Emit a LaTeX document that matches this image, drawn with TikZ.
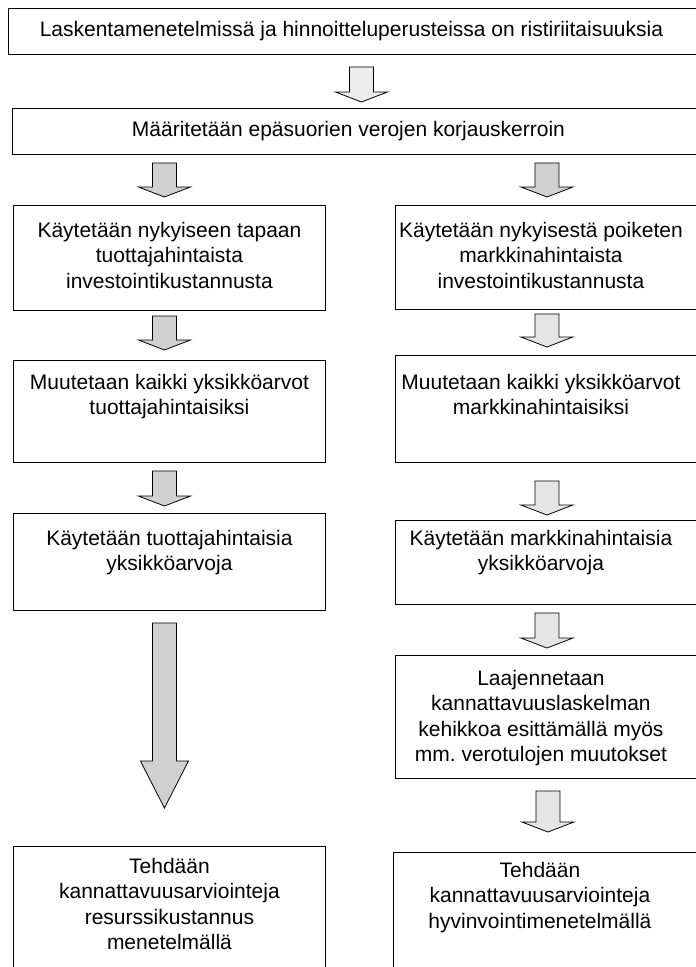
\documentclass[tikz,border=0pt]{standalone}
\usepackage{fontspec}
\setmainfont{Liberation Sans}
\usetikzlibrary{calc}
\usetikzlibrary{positioning}

\tikzset{
    box/.style={draw, line width=0.9pt, inner sep=0pt, minimum width=312pt, anchor=north west},
    txt/.style={inner sep=0pt, align=center, font=\fontsize{21}{25.5}\selectfont},
    barr/.style n args={3}{draw, line width=0.8pt, fill=#1,
        to path={let \p1=(\tikztostart), \p2=(\tikztotarget) in
            (\x2-12pt,\y1) -- (\x2+12pt,\y1) -- (\x2+12pt,\y2+#2) -- (\x2+#3,\y2+#2)
            -- (\x2,\y2) -- (\x2-#3,\y2+#2) -- (\x2-12pt,\y2+#2) -- cycle}},
}

\begin{document}
\begin{tikzpicture}[x=1pt, y=-1pt]
    \useasboundingbox (0,0) rectangle (696,967);
    \clip (0,0) rectangle (696,967);
    % boxes
    \node[box, minimum width=706pt, minimum height=46pt] (lask) at (8,8) {};
    \node[box, minimum width=698pt, minimum height=46pt] (maar) at (12,108) {};
    \node[box, minimum height=105pt] (tuotInv) at (13,205) {};
    \node[box, minimum height=102pt] (tuotMuu) at (13,360) {};
    \node[box, minimum height=97pt] (tuotYks) at (13,513) {};
    \node[box, minimum height=140pt] (resMen) at (13,846) {};
    \node[box, minimum width=305pt, minimum height=104pt] (markInv) at (395,205) {};
    \node[box, minimum width=305pt, minimum height=107pt] (markMuu) at (395,355) {};
    \node[box, minimum width=305pt, minimum height=84pt] (markYks) at (395,520) {};
    \node[box, minimum width=305pt, minimum height=123pt] (laaj) at (395,655) {};
    \node[box, minimum width=307pt, minimum height=130pt] (hyvMen) at (393,852) {};
    % texts
    \node[txt] (laskT) at ([xshift=-10pt]lask.center) {Laskentamenetelmissä ja hinnoitteluperusteissa on ristiriitaisuuksia};
    \node[txt] (maarT) at ([xshift=-13pt]maar.center) {Määritetään epäsuorien verojen korjauskerroin};
    \node[txt, below=17pt of tuotInv.north] (tuotInvT) {Käytetään nykyiseen tapaan\\tuottajahintaista\\investointikustannusta};
    \node[txt, below=14pt of tuotMuu.north] (tuotMuuT) {Muutetaan kaikki yksikköarvot\\tuottajahintaisiksi};
    \node[txt, below=17pt of tuotYks.north] (tuotYksT) {Käytetään tuottajahintaisia\\yksikköarvoja};
    \node[txt, below=12pt of resMen.north] (resMenT) {Tehdään\\kannattavuusarviointeja\\resurssikustannus\\menetelmällä};
    \node[txt, below=17pt of markInv.north, xshift=-7pt] (markInvT) {Käytetään nykyisestä poiketen\\markkinahintaista\\investointikustannusta};
    \node[txt, below=19pt of markMuu.north, xshift=-7pt] (markMuuT) {Muutetaan kaikki yksikköarvot\\markkinahintaisiksi};
    \node[txt, below=10pt of markYks.north, xshift=-7pt] (markYksT) {Käytetään markkinahintaisia\\yksikköarvoja};
    \node[txt, below=15pt of laaj.north, xshift=-7pt] (laajT) {Laajennetaan\\kannattavuuslaskelman\\kehikkoa esittämällä myös\\mm.\ verotulojen muutokset};
    \node[txt, below=10pt of hyvMen.north, xshift=-7pt] (hyvMenT) {Tehdään\\kannattavuusarviointeja\\hyvinvointimenetelmällä};
    % block arrows
    \draw[barr={gray!15}{10pt}{26pt}] ([yshift=-12pt]lask.south) to ([yshift=6pt]maar.north);
    \draw[barr={gray!37}{10pt}{26pt}] ([yshift=-8pt]maar.south) to ([xshift=-5pt, yshift=8pt]tuotInv.north);
    \draw[barr={gray!37}{10pt}{26pt}] ([yshift=-8pt]maar.south) to ([xshift=-1pt, yshift=8pt]markInv.north);
    \draw[barr={gray!37}{10pt}{26pt}] ([yshift=-5pt]tuotInv.south) to ([xshift=-5pt, yshift=10pt]tuotMuu.north);
    \draw[barr={gray!20}{10pt}{26pt}] ([yshift=-4pt]markInv.south) to ([xshift=-1pt, yshift=8pt]markMuu.north);
    \draw[barr={gray!37}{10pt}{26pt}] ([yshift=-8pt]tuotMuu.south) to ([xshift=-5pt, yshift=7pt]tuotYks.north);
    \draw[barr={gray!20}{10pt}{26pt}] ([yshift=-18pt]markMuu.south) to ([xshift=-1pt, yshift=5pt]markYks.north);
    \draw[barr={gray!37}{47pt}{24pt}] ([yshift=-12pt]tuotYks.south) to ([xshift=-5pt, yshift=38pt]resMen.north);
    \draw[barr={gray!20}{10pt}{26pt}] ([yshift=-8pt]markYks.south) to ([xshift=-1pt, yshift=7pt]laaj.north);
    \draw[barr={gray!20}{10pt}{26pt}] ([yshift=-12pt]laaj.south) to ([xshift=1pt, yshift=20pt]hyvMen.north);
\end{tikzpicture}
\end{document}
